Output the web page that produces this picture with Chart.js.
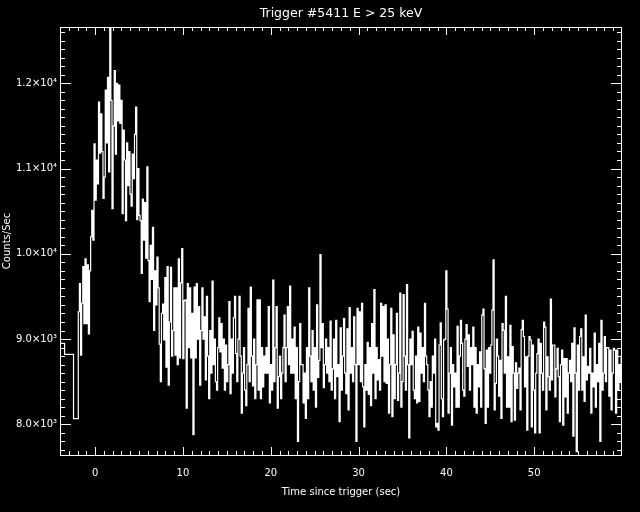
<!DOCTYPE html>
<html>
<head>
<meta charset="utf-8">
<script src="https://cdn.jsdelivr.net/npm/chart.js@4.4.1/dist/chart.umd.min.js"></script>
<style>
  html, body { margin: 0; padding: 0; background: #000; }
  canvas { display: block; }
</style>
</head>
<body>
<canvas id="lc" width="640" height="512"></canvas>
<script>
var titleText = 'Trigger #5411 E > 25 keV';

// pre-trigger data, 1.024 s bins (bin start times, counts/sec)
var preTimes = [-4.50, -3.48, -2.46];
var preRates = [8790, 8950, 8820];

// 0.128 s bins from fineStart on
var fineStart = -1.92;
var fineWidth = 0.128;
var fineRates = [
  8066, 9320, 9650, 8810, 9420, 9850, 9180, 9940,
  9180, 9870, 9060, 9800, 10200, 10510, 10160, 11290,
  10630, 11100, 10820, 11780, 11180, 11640, 11200, 10650,
  10900, 11920, 11300, 12070, 10960, 12700, 11800, 10530,
  11500, 12150, 11170, 12000, 11560, 11980, 11530, 11800,
  10470, 11450, 11100, 10390, 11300, 10800, 11200, 10700,
  10560, 11170, 10880, 11400, 11720, 10400, 11000, 10450,
  10390, 9770, 10640, 10160, 10600, 9950, 11020, 9920,
  9440, 10100, 9700, 10310, 9100, 9800, 9400, 9960,
  9600, 8940, 8500, 9300, 9410, 8990, 9720, 8670,
  9850, 8460, 9200, 9840, 8800, 9100, 9600, 8810,
  9600, 8700, 9940, 8780, 9660, 10060, 8770, 9450,
  9460, 8190, 9650, 8900, 9600, 8780, 9300, 7880,
  9610, 8780, 9650, 9000, 9380, 8460, 9100, 9600,
  9000, 9260, 8520, 9500, 8800, 8300, 9100, 8600,
  9680, 8700, 9000, 8500, 8400, 8900, 9250, 8850,
  9180, 8660, 9000, 8400, 8930, 8500, 8700, 9440,
  8360, 9000, 8600, 9250, 9500, 8830, 8500, 9000,
  9500, 8800, 8130, 8600, 8900, 8400, 8220, 8700,
  9360, 8500, 9610, 8800, 8450, 9000, 8300, 8700,
  9460, 8400, 9460, 8300, 8900, 8440, 8800, 8600,
  8900, 8600, 9380, 8250, 8700, 8400, 9690, 8500,
  8900, 9380, 8190, 8560, 8800, 8300, 8600, 8900,
  9280, 8500, 8900, 9380, 8700, 9620, 8600, 9000,
  8600, 9140, 8300, 8900, 7800, 8500, 9180, 8700,
  8700, 8250, 8600, 8070, 8900, 8300, 9600, 8800,
  8500, 9100, 8400, 8900, 8200, 9400, 8550, 8750,
  9990, 8900, 9180, 8430, 8700, 9000, 8600, 8900,
  8500, 9210, 8400, 8650, 9000, 8300, 9220, 8560,
  8700, 8030, 9130, 8400, 8800, 9240, 8600, 8360,
  9120, 8170, 9370, 8600, 8900, 8500, 9260, 8700,
  7800, 9360, 8700, 9320, 8500, 9420, 8440, 7970,
  8700, 8400, 8960, 8350, 8900, 8220, 9180, 8600,
  9580, 8300, 8900, 8520, 8760, 8400, 9420, 8800,
  9380, 8500, 9400, 8480, 9000, 8130, 8700, 9360,
  8090, 9050, 8300, 8700, 9300, 8280, 8600, 9540,
  8200, 8500, 9520, 8800, 8400, 9640, 8700, 7840,
  9000, 8700, 9090, 8400, 8300, 8800, 8250, 9140,
  8270, 9070, 8600, 8900, 8500, 9420, 8800, 8700,
  8400, 8090, 8500, 8200, 8800, 8600, 9000, 7970,
  8010, 7930, 8930, 9190, 8300, 8090, 8990, 9000,
  9800, 9350, 8130, 8600, 8900, 7990, 8700, 8440,
  8600, 8200, 9150, 8200, 8800, 9220, 8950, 8400,
  8330, 9000, 9170, 8680, 9050, 8400, 8900, 8700,
  9140, 8200, 8900, 8130, 8700, 8440, 8850, 8200,
  9280, 9350, 8650, 8010, 8870, 8200, 8900, 8600,
  8930, 9340, 9930, 8170, 8480, 9000, 8800, 8330,
  8750, 8070, 9180, 9100, 8600, 9500, 8200, 8790,
  8200, 9160, 8030, 8910, 8600, 8050, 8720, 8420,
  8600, 8660, 8170, 9110, 9220, 9030, 8440, 8790,
  7930, 8800, 9030, 8990, 7970, 8930, 8400, 7900,
  8600, 8830, 9000, 7900, 8950, 8600, 8400, 9200,
  9140, 8170, 8790, 8560, 8400, 9470, 8520, 8930,
  8930, 8320, 8650, 8890, 8560, 8030, 8700, 8870,
  7990, 8770, 8320, 8770, 8130, 8600, 8750, 8500,
  8950, 7860, 9130, 8600, 7680, 8930, 8400, 9030,
  9120, 8400, 8790, 8270, 9280, 8520, 8680, 8600,
  8890, 8130, 8600, 8440, 9070, 8200, 8700, 8500,
  8950, 7800, 9220, 8400, 8600, 9030, 8500, 8900,
  8900, 8330, 8870, 8170, 8600, 8890, 8870, 8130,
  8870, 8400, 8700, 8500, 8800, 8600, 8700, 8500
];

var xTickValues = [0, 10, 20, 30, 40, 50];
var xTickLabels = ['0', '10', '20', '30', '40', '50'];
var yTickValues = [8000, 9000, 10000, 11000, 12000];
var yTickLabels = ['8.0×10³', '9.0×10³', '1.0×10⁴', '1.1×10⁴', '1.2×10⁴'];

var points = [];
preTimes.forEach(function (t, i) { points.push({x: t, y: preRates[i]}); });
fineRates.forEach(function (r, i) { points.push({x: fineStart + i * fineWidth, y: r}); });

var font = 'DejaVu Sans';

// IDL style box with inward ticks on all four sides, plus the title
var frame = {
  id: 'frame',
  beforeDraw: function (chart) {
    var c = chart.ctx;
    c.save();
    c.fillStyle = '#000';
    c.fillRect(0, 0, chart.width, chart.height);
    c.restore();
  },
  afterDraw: function (chart) {
    var c = chart.ctx, a = chart.chartArea;
    var xs = chart.scales.x, ys = chart.scales.y;
    c.save();
    c.strokeStyle = '#fff';
    c.lineWidth = 1;
    c.strokeRect(a.left + 0.5, a.top + 0.5, a.right - a.left - 1, a.bottom - a.top);
    c.beginPath();
    for (var t = -3; t <= 59; t++) {
      var px = Math.round(xs.getPixelForValue(t)) + 0.5;
      var len = t % 10 === 0 ? 8 : 4;
      c.moveTo(px, a.bottom); c.lineTo(px, a.bottom - len);
      c.moveTo(px, a.top); c.lineTo(px, a.top + len);
    }
    for (var v = 7700; v <= 12600; v += 100) {
      var py = Math.round(ys.getPixelForValue(v)) + 0.5;
      var l = v % 1000 === 0 ? 11 : 5;
      c.moveTo(a.left, py); c.lineTo(a.left + l, py);
      c.moveTo(a.right, py); c.lineTo(a.right - l, py);
    }
    c.stroke();
    c.fillStyle = '#fff';
    c.font = '12.5px "' + font + '"';
    c.textAlign = 'center';
    c.textBaseline = 'middle';
    c.fillText(titleText, (a.left + a.right) / 2, 14);
    c.restore();
  }
};

new Chart(document.getElementById('lc').getContext('2d'), {
  type: 'line',
  data: {
    datasets: [{
      data: points,
      stepped: 'after',
      borderColor: '#fff',
      borderWidth: 1.2,
      pointRadius: 0,
      fill: false
    }]
  },
  options: {
    responsive: false,
    animation: false,
    events: [],
    layout: { padding: { top: 27, right: 18, left: 0, bottom: 0 } },
    plugins: { legend: { display: false }, tooltip: { enabled: false } },
    scales: {
      x: {
        type: 'linear',
        min: -4,
        max: 60,
        grid: { display: false, drawTicks: false },
        border: { display: false },
        afterBuildTicks: function (s) { s.ticks = xTickValues.map(function (v) { return {value: v}; }); },
        afterFit: function (s) { s.height = 57; s.paddingLeft = 0; s.paddingRight = 0; },
        ticks: {
          color: '#fff',
          font: { family: font, size: 10 },
          padding: 12,
          maxRotation: 0,
          autoSkip: false,
          callback: function (v, i) { return xTickLabels[i]; }
        },
        title: {
          display: true,
          text: 'Time since trigger (sec)',
          color: '#fff',
          font: { family: font, size: 10 },
          padding: { top: 0, bottom: 14 }
        }
      },
      y: {
        min: 7640,
        max: 12660,
        grid: { display: false, drawTicks: false },
        border: { display: false },
        afterBuildTicks: function (s) { s.ticks = yTickValues.map(function (v) { return {value: v}; }); },
        afterFit: function (s) { s.width = 60; s.paddingTop = 0; s.paddingBottom = 0; },
        ticks: {
          color: '#fff',
          font: { family: font, size: 10 },
          padding: 3,
          autoSkip: false,
          callback: function (v, i) { return yTickLabels[i]; }
        },
        title: {
          display: true,
          text: 'Counts/Sec',
          color: '#fff',
          font: { family: font, size: 10 },
          padding: { top: 1, bottom: 0 }
        }
      }
    }
  },
  plugins: [frame]
});
</script>
</body>
</html>
